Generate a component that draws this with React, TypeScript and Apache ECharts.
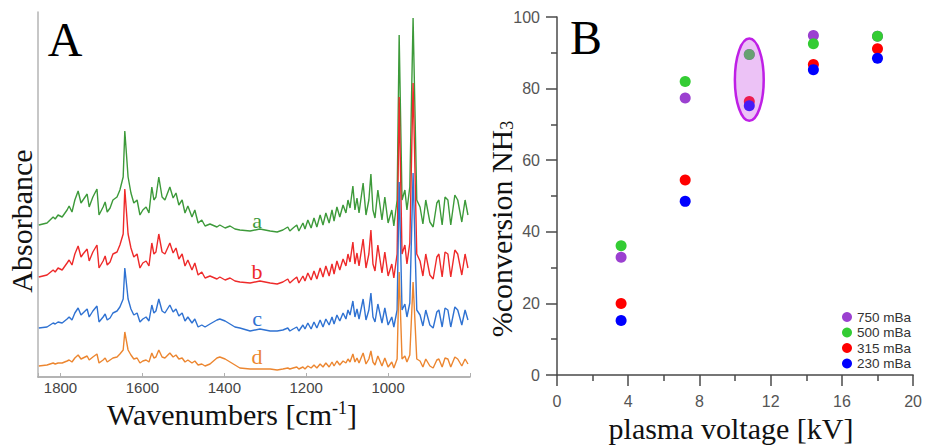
import React, { useEffect, useRef } from "react";
import * as echarts from "echarts";

// ---------- Panel A : IR spectra ----------
const WAVENUMBERS = [
  1853, 1833, 1818, 1813, 1806, 1796, 1784, 1779, 1772, 1765,
  1757, 1750, 1745, 1735, 1730, 1721, 1711, 1706, 1696, 1691,
  1686, 1679, 1672, 1662, 1655, 1647, 1643, 1635, 1628, 1621,
  1613, 1606, 1599, 1591, 1584, 1577, 1572, 1567, 1560, 1552,
  1545, 1533, 1525, 1518, 1511, 1503, 1496, 1489, 1479, 1472,
  1464, 1455, 1447, 1435, 1418, 1411, 1398, 1386, 1374,
  1362, 1337, 1313, 1288, 1271, 1257, 1245, 1240, 1232, 1223,
  1218, 1208, 1203, 1196, 1188, 1181, 1174, 1166, 1159, 1152,
  1144, 1137, 1132, 1125, 1118, 1110, 1103, 1098, 1093, 1086,
  1081, 1076, 1071, 1061, 1054, 1047, 1042, 1037, 1032, 1025,
  1015, 1008, 1000, 991, 986, 978, 973, 966, 959, 954,
  947, 939, 930, 922, 915, 908, 898, 890, 881, 876,
  868, 861, 854, 847, 837, 830, 820, 812, 805,
];

const SPECTRUM_A = [
  152, 154, 160, 158, 162, 160, 167, 171, 165, 177,
  186, 174, 177, 183, 170, 180, 188, 162, 170, 175,
  165, 169, 177, 180, 187, 200, 246, 200, 184, 174,
  177, 162, 167, 170, 164, 190, 177, 180, 200, 180,
  177, 190, 179, 184, 172, 177, 164, 171, 160, 167,
  154, 157, 151, 153, 150, 152, 149, 151, 148,
  147, 146, 148, 146, 145, 147, 150, 146, 149, 152,
  146, 154, 148, 157, 149, 159, 150, 162, 152, 164,
  154, 167, 156, 170, 160, 172, 164, 177, 169, 191,
  167, 179, 164, 194, 162, 177, 203, 167, 159, 187,
  157, 180, 154, 167, 151, 177, 342, 177, 187, 167,
  190, 359, 177, 170, 153, 177, 155, 150, 174, 177,
  152, 180, 177, 152, 182, 177, 155, 177, 162,
];

const SPECTRUM_B = [
  100, 102, 107, 105, 109, 107, 114, 117, 112, 123,
  131, 120, 123, 128, 116, 125, 132, 109, 116, 121,
  112, 115, 123, 125, 132, 143, 188, 143, 129, 120,
  123, 109, 114, 116, 111, 134, 123, 125, 143, 125,
  123, 134, 124, 129, 118, 123, 111, 117, 107, 114,
  102, 105, 99, 101, 98, 100, 97, 99, 96,
  95, 94, 96, 94, 93, 95, 98, 94, 97, 100,
  94, 101, 96, 104, 97, 106, 98, 109, 100, 111,
  101, 113, 103, 116, 107, 118, 111, 123, 115, 135,
  113, 124, 111, 138, 109, 123, 147, 113, 106, 132,
  104, 125, 101, 113, 99, 123, 280, 123, 132, 113,
  134, 294, 123, 116, 101, 123, 102, 98, 120, 123,
  100, 125, 123, 100, 127, 123, 102, 123, 109,
];

const SPECTRUM_C = [
  49, 50, 54, 53, 55, 54, 58, 60, 57, 64,
  69, 62, 64, 68, 60, 66, 71, 55, 60, 63,
  57, 59, 64, 66, 70, 78, 109, 78, 68, 62,
  64, 55, 58, 60, 56, 72, 64, 66, 78, 66,
  64, 72, 65, 68, 61, 64, 56, 60, 54, 58,
  50, 52, 50, 53, 57, 58, 56, 53, 50,
  49, 46, 48, 46, 46, 47, 49, 46, 48, 50,
  46, 52, 48, 54, 48, 55, 49, 57, 50, 58,
  52, 60, 53, 62, 56, 64, 58, 67, 62, 76,
  60, 68, 58, 78, 57, 67, 84, 60, 55, 73,
  54, 69, 52, 60, 50, 67, 195, 67, 73, 60,
  74, 204, 67, 62, 51, 67, 52, 49, 65, 67,
  50, 69, 67, 50, 70, 67, 52, 67, 57,
];

const SPECTRUM_D = [
  11, 12, 14, 13, 14, 14, 16, 17, 15, 19,
  22, 18, 19, 21, 17, 20, 23, 14, 17, 19,
  15, 17, 19, 20, 23, 27, 45, 27, 22, 18,
  19, 14, 16, 17, 15, 24, 19, 20, 27, 20,
  19, 24, 20, 22, 18, 19, 15, 17, 14, 16,
  12, 13, 11, 13, 19, 20, 18, 15, 12,
  9, 8, 8, 8, 7, 8, 9, 8, 9, 10,
  8, 10, 8, 11, 9, 12, 9, 13, 10, 14,
  10, 15, 11, 16, 12, 16, 14, 18, 15, 23,
  15, 19, 14, 24, 13, 18, 26, 15, 12, 21,
  11, 19, 10, 15, 9, 18, 105, 18, 21, 15,
  22, 95, 18, 16, 10, 18, 11, 9, 17, 18,
  10, 19, 18, 10, 20, 18, 11, 18, 13,
];

const SPECTRUM_NAMES = ["a", "b", "c", "d"];
const WAVENUMBER_TICKS = [1800, 1600, 1400, 1200, 1000];

// ---------- Panel B : NH3 conversion ----------
const VOLTAGE_KV = [3.6, 7.2, 10.8, 14.4, 18.0];
const CONV_750 = [32.9, 77.4, 89.5, 94.8, 94.6];
const CONV_500 = [36.1, 82.0, 89.5, 92.5, 94.6];
const CONV_315 = [20.0, 54.5, 76.4, 86.7, 91.1];
const CONV_230 = [15.2, 48.5, 75.2, 85.3, 88.5];
const PRESSURE_NAMES = ["750 mBa", "500 mBa", "315 mBa", "230 mBa"];
const HIGHLIGHT = [10.8, 82.5, 0.81, 11.5]; // centre x, centre y, half-width, half-height (data units)

const SERIF = '"Liberation Serif", "Times New Roman", serif';
const SANS = '"Liberation Sans", Arial, sans-serif';

const SPEC_COLORS = ["#3d9a3a", "#ee2a2a", "#2f72d2", "#ec8630"];
const DOT_COLORS = ["#9b40d0", "#33cc33", "#ff0000", "#0000ff"];

export default function App() {
  const ref = useRef<HTMLDivElement>(null);

  useEffect(() => {
    if (!ref.current) return;
    const chart = echarts.init(ref.current, null, { renderer: "svg" });

    const spectra = [SPECTRUM_A, SPECTRUM_B, SPECTRUM_C, SPECTRUM_D];
    const lineSeries = spectra.map((s, i) => ({
      type: "line",
      name: "spectrum " + SPECTRUM_NAMES[i],
      xAxisIndex: 0,
      yAxisIndex: 0,
      data: WAVENUMBERS.map((w, k) => [w, s[k]]),
      showSymbol: false,
      smooth: false,
      lineStyle: { color: SPEC_COLORS[i], width: 1.4 },
      z: 2 + i,
    }));

    const conv = [CONV_750, CONV_500, CONV_315, CONV_230];
    const scatterSeries = conv.map((c, i) => ({
      type: "scatter",
      name: PRESSURE_NAMES[i],
      xAxisIndex: 1,
      yAxisIndex: 1,
      data: VOLTAGE_KV.map((v, k) => [v, c[k]]),
      symbolSize: 11,
      itemStyle: { color: DOT_COLORS[i], opacity: 1 },
      z: 2 + i,
    }));

    const highlightSeries = {
      type: "custom",
      name: "highlight",
      xAxisIndex: 1,
      yAxisIndex: 1,
      z: 20,
      silent: true,
      data: [HIGHLIGHT],
      renderItem: (_p: any, api: any) => {
        const c = api.coord([api.value(0), api.value(1)]);
        const e = api.coord([api.value(0) + api.value(2), api.value(1) + api.value(3)]);
        return {
          type: "ellipse",
          shape: { cx: c[0], cy: c[1], rx: Math.abs(e[0] - c[0]), ry: Math.abs(c[1] - e[1]) },
          style: { fill: "rgba(200,80,230,0.35)", stroke: "#bf1fe6", lineWidth: 2.5 },
        };
      },
    };

    const labelYs = [220, 271, 318, 356];

    const option: any = {
      animation: false,
      backgroundColor: "#ffffff",
      grid: [
        { left: 38, top: 12, width: 432, height: 365 },
        { left: 557, top: 17, width: 357, height: 358 },
      ],
      xAxis: [
        {
          type: "value",
          gridIndex: 0,
          inverse: true,
          min: 800,
          max: 1855,
          interval: 200,
          splitLine: { show: false },
          axisLine: { lineStyle: { color: "#9c9c9c", width: 1.5 } },
          axisTick: { inside: true, length: 4, lineStyle: { color: "#b0b0b0" } },
          axisLabel: {
            fontFamily: SANS,
            fontSize: 15,
            color: "#444",
            margin: 3,
            formatter: (v: number) => (WAVENUMBER_TICKS.includes(v) ? String(v) : ""),
          },
        },
        {
          type: "value",
          gridIndex: 1,
          min: 0,
          max: 20,
          interval: 4,
          splitLine: { show: false },
          axisLine: { lineStyle: { color: "#4a4a4a", width: 1.5 } },
          axisTick: { length: 11, lineStyle: { color: "#4a4a4a", width: 1.5 } },
          minorTick: { show: true, splitNumber: 2, length: 6, lineStyle: { color: "#4a4a4a", width: 1.5 } },
          axisLabel: { fontFamily: SANS, fontSize: 16, color: "#555", margin: 18 },
        },
      ],
      yAxis: [
        {
          type: "value",
          gridIndex: 0,
          min: 0,
          max: 365,
          splitLine: { show: false },
          axisLine: { show: true, lineStyle: { color: "#b4b4b4", width: 1.5 } },
          axisTick: { show: false },
          axisLabel: { show: false },
        },
        {
          type: "value",
          gridIndex: 1,
          min: 0,
          max: 100,
          interval: 20,
          splitLine: { show: false },
          axisLine: { show: true, lineStyle: { color: "#4a4a4a", width: 1.5 } },
          axisTick: { show: true, length: 11, lineStyle: { color: "#4a4a4a", width: 1.5 } },
          minorTick: { show: true, splitNumber: 2, length: 6, lineStyle: { color: "#4a4a4a", width: 1.5 } },
          axisLabel: { fontFamily: SANS, fontSize: 16, color: "#555", margin: 17 },
        },
      ],
      legend: {
        data: PRESSURE_NAMES,
        orient: "vertical",
        left: 837,
        top: 305,
        icon: "circle",
        itemWidth: 10,
        itemHeight: 10,
        itemGap: 1.5,
        selectedMode: false,
        textStyle: { fontFamily: SANS, fontSize: 13.5, color: "#333", lineHeight: 12.5 },
      },
      series: [...lineSeries, ...scatterSeries, highlightSeries],
      graphic: [
        {
          type: "text",
          x: 65,
          y: 39,
          style: { text: "A", fontFamily: SERIF, fontSize: 48, fill: "#000", align: "center", verticalAlign: "middle" },
        },
        {
          type: "text",
          x: 586,
          y: 37,
          style: { text: "B", fontFamily: SERIF, fontSize: 48, fill: "#000", align: "center", verticalAlign: "middle" },
        },
        ...SPECTRUM_NAMES.map((n, i) => ({
          type: "text",
          x: 257,
          y: labelYs[i],
          style: { text: n, fontFamily: SERIF, fontSize: 22, fill: SPEC_COLORS[i], align: "center", verticalAlign: "middle" },
        })),
        {
          type: "text",
          x: 21,
          y: 221,
          rotation: Math.PI / 2,
          style: { text: "Absorbance", fontFamily: SERIF, fontSize: 30, fill: "#111", align: "center", verticalAlign: "middle" },
        },
        {
          type: "text",
          x: 232,
          y: 414,
          style: {
            text: "Wavenumbers [cm{sup|-1}]",
            fontFamily: SERIF,
            fontSize: 30,
            fill: "#111",
            align: "center",
            verticalAlign: "middle",
            rich: { sup: { fontFamily: SERIF, fontSize: 18, fill: "#111", verticalAlign: "top", lineHeight: 14 } },
          },
        },
        {
          type: "text",
          x: 501,
          y: 229,
          rotation: Math.PI / 2,
          style: {
            text: "%conversion NH{sub|3}",
            fontFamily: SERIF,
            fontSize: 30,
            fill: "#111",
            align: "center",
            verticalAlign: "middle",
            rich: { sub: { fontFamily: SERIF, fontSize: 18, fill: "#111", verticalAlign: "bottom", lineHeight: 10 } },
          },
        },
        {
          type: "text",
          x: 731,
          y: 428,
          style: { text: "plasma voltage [kV]", fontFamily: SERIF, fontSize: 30, fill: "#111", align: "center", verticalAlign: "middle" },
        },
      ],
    };

    chart.setOption(option);
    return () => chart.dispose();
  }, []);

  return (
    <div
      ref={ref}
      style={{ position: "fixed", left: 0, top: 0, width: 925, height: 445, background: "#fff" }}
    />
  );
}
